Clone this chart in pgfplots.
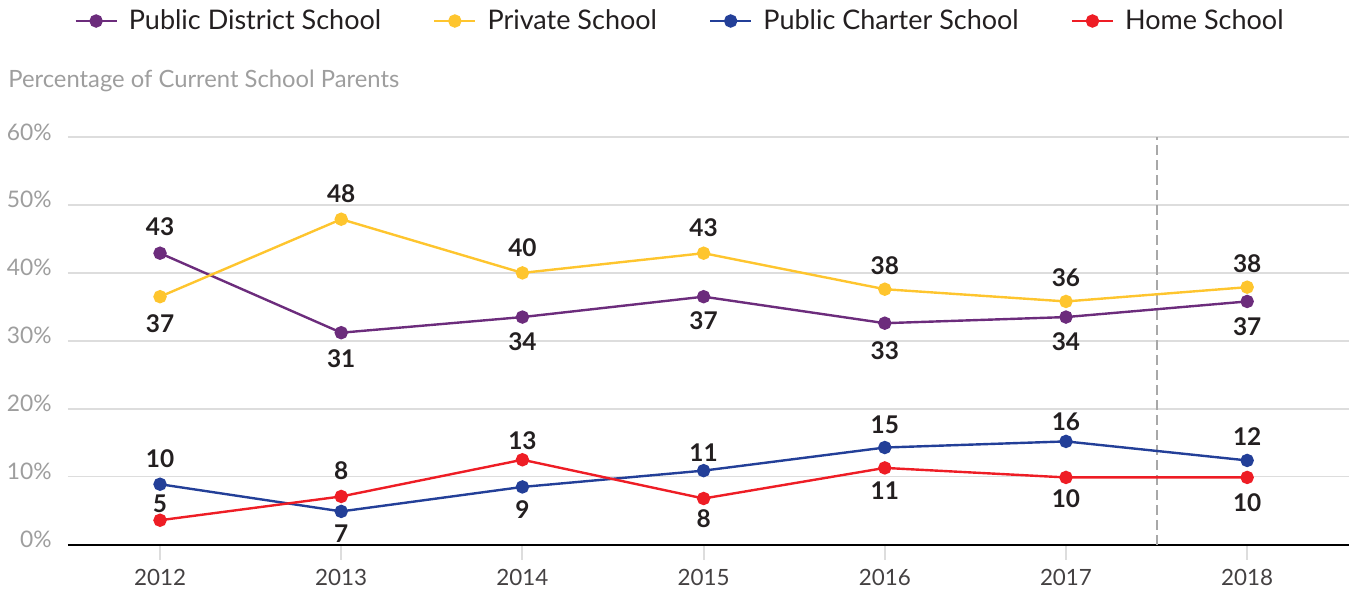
\documentclass[border=0pt]{standalone}
\usepackage{pgfplots}
\pgfplotsset{compat=1.18}
\usepackage{pgfplotstable}
\usepackage{fontspec}
\setmainfont{Lato}

\definecolor{district}{HTML}{6C2C7C}
\definecolor{private}{HTML}{FEC52E}
\definecolor{charter}{HTML}{233F98}
\definecolor{home}{HTML}{EE1D25}
\definecolor{gridgray}{HTML}{DDDDDD}
\definecolor{dashgray}{HTML}{A8A8A8}
\definecolor{softgray}{HTML}{9E9E9E}
\definecolor{ink}{HTML}{231F20}

% x y label offset(pt)
\pgfplotstableread{
x y lab off
2012 42.9 43 13.3
2013 31.2 31 -12.9
2014 33.5 34 -12.2
2015 36.5 37 -12.2
2016 32.6 33 -13.6
2017 33.5 34 -12.2
2018 35.8 37 -12.6
}\tdistrict

\pgfplotstableread{
x y lab off
2012 36.5 37 -13.6
2013 47.9 48 12.6
2014 40.0 40 12.6
2015 42.9 43 12.6
2016 37.6 38 11.6
2017 35.8 36 11.9
2018 37.9 38 11.6
}\tprivate

\pgfplotstableread{
x y lab off
2012 8.9 10 12.6
2013 4.9 7 -10.9
2014 8.5 9 -11.2
2015 10.9 11 8.8
2016 14.3 15 11.6
2017 15.2 16 9.9
2018 12.4 12 11.9
}\tcharter

\pgfplotstableread{
x y lab off
2012 3.6 5 8.2
2013 7.1 8 12.9
2014 12.5 13 9.5
2015 6.8 8 -9.9
2016 11.3 11 -11.2
2017 9.9 10 -10.5
2018 9.9 10 -12.6
}\thome

\pgfplotsset{
  series/.style={#1, line width=1.2pt, mark=*, mark size=2.75pt,
    mark options={solid, fill=#1, draw=#1},
    nodes near coords, point meta=explicit symbolic,
    visualization depends on={\thisrow{off} \as \loff},
    nodes near coords style={anchor=center, inner sep=0pt, yshift=\loff,
      text=ink, font=\fontsize{12.2}{14}\selectfont\bfseries}},
}

\begin{document}
\begin{tikzpicture}
% picture frame: axis box sits at the origin
\useasboundingbox (-34pt,-22.15pt) rectangle (641.5pt,272.35pt);
\begin{axis}[
  at={(0pt,0pt)}, anchor=south west,
  scale only axis, width=640.5pt, height=203.85pt,
  xmin=2011.492, xmax=2018.562, ymin=0, ymax=60,
  clip=false,
  axis lines*=left,
  y axis line style={draw=none},
  x axis line style={black, line width=1pt},
  xtick={2012,2013,2014,2015,2016,2017,2018},
  xticklabels={2012,2013,2014,2015,2016,2017,2018},
  ytick={0,10,20,30,40,50,60},
  yticklabels={0\%,10\%,20\%,30\%,40\%,50\%,60\%},
  tick align=outside,
  major tick length=7.5pt,
  xtick style={draw=gridgray, line width=1pt},
  ytick style={draw=none},
  ymajorgrids,
  grid style={color=gridgray, line width=0.75pt},
  xticklabel style={font=\fontsize{11.2}{13}\selectfont, text=ink!85, inner sep=0pt, anchor=north, yshift=-4.5pt},
  yticklabel style={font=\fontsize{11.4}{13}\selectfont, text=softgray, inner sep=0pt, anchor=base east, xshift=-0.5pt, yshift=-1.5pt},
  legend columns=4,
  legend cell align=left,
  legend style={draw=none, fill=none, at={(0.0047,1)}, anchor=west, yshift=58pt,
    inner sep=0pt, font=\fontsize{13.5}{16}\selectfont, text=ink,
    /tikz/every odd column/.append style={column sep=3.5pt},
    /tikz/every even column/.append style={column sep=24pt}},
  legend image code/.code={\draw[#1, mark repeat=2, mark phase=2] plot coordinates {(0pt,0pt) (10.25pt,0pt) (20.5pt,0pt)};},
]
\draw[dashgray, line width=1pt, dash pattern=on 5pt off 2.5pt] (axis cs:2017.5,0) -- (axis cs:2017.5,60);

\addplot[series=district] table[x=x, y=y, meta=lab] {\tdistrict};
\addlegendentry{Public District School}
\addplot[series=private] table[x=x, y=y, meta=lab] {\tprivate};
\addlegendentry{Private School}
\addplot[series=charter] table[x=x, y=y, meta=lab] {\tcharter};
\addlegendentry{Public Charter School}
\addplot[series=home] table[x=x, y=y, meta=lab] {\thome};
\addlegendentry{Home School}

\node[anchor=west, inner sep=0pt, text=softgray, font=\fontsize{11.9}{14}\selectfont]
  at ([xshift=-30pt, yshift=28pt] rel axis cs:0,1) {Percentage of Current School Parents};
\end{axis}
\end{tikzpicture}
\end{document}
